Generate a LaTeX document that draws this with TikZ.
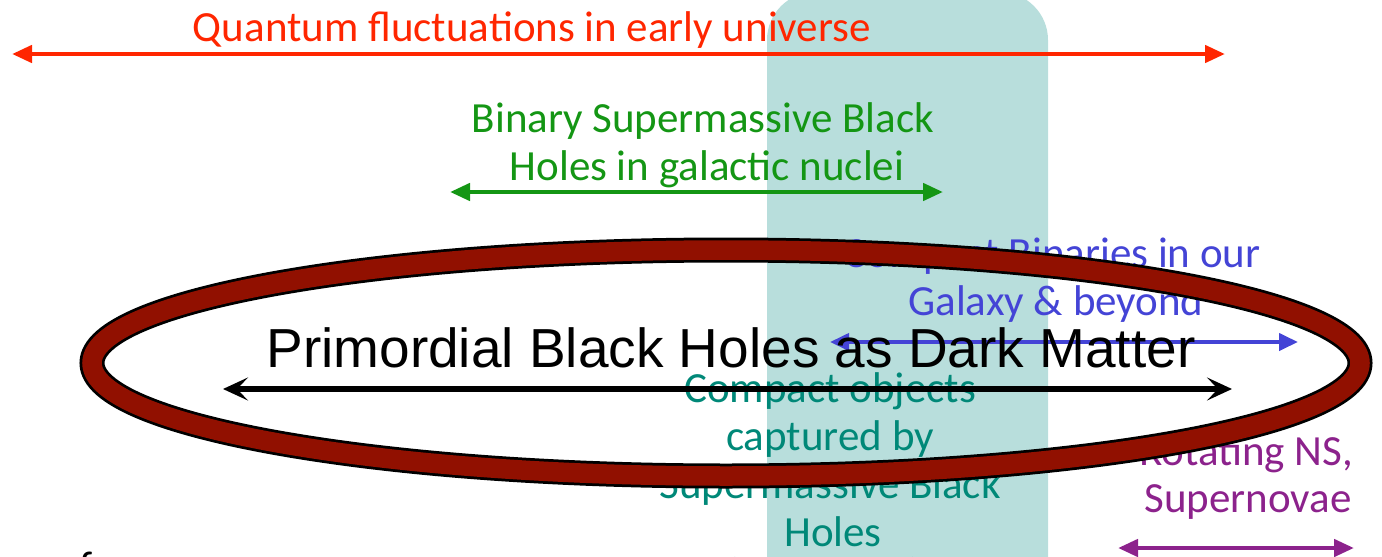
\documentclass[tikz,border=0pt]{standalone}
\usepackage{fontspec}
\setmainfont{Carlito}
\newfontfamily\arialf{Liberation Sans}
\usetikzlibrary{arrows.meta}
\definecolor{qred}{RGB}{255,38,0}
\definecolor{bgreen}{RGB}{20,150,20}
\definecolor{cblue}{RGB}{68,68,214}
\definecolor{cteal}{RGB}{0,136,120}
\definecolor{rpurple}{RGB}{140,34,140}
\definecolor{ringred}{RGB}{145,16,0}
\definecolor{boxteal}{RGB}{184,222,220}
\tikzset{
  lbl/.style={anchor=base, inner sep=0pt, font=\fontsize{43}{49}\selectfont},
  thinarrow/.style={line width=4.5pt, {Triangle[length=20pt,width=17pt]}-{Triangle[length=20pt,width=17pt]}},
  mainarrow/.style={line width=6.5pt, {Stealth[length=25pt,width=23pt,inset=11pt]}-{Stealth[length=25pt,width=23pt,inset=11pt]}},
}
\begin{document}
\begin{tikzpicture}[x=1pt,y=-1pt]
\useasboundingbox (0,0) rectangle (1382,557);
\clip (0,0) rectangle (1382,557);
% teal band
\fill[boxteal, rounded corners=48pt] (767,-8) rectangle (1048,620);
% red
\node[lbl, text=qred] (q) at (532,41) {Quantum fluctuations in early universe};
\coordinate (qL) at (12,54); \coordinate (qR) at (1225,54);
\draw[thinarrow, qred] (qL) -- (qR);
% green
\node[lbl, text=bgreen] (g1) at (703,132) {Binary Supermassive Black};
\node[lbl, text=bgreen] (g2) at (707,180) {Holes in galactic nuclei};
\coordinate (gL) at (450,192); \coordinate (gR) at (943,192);
\draw[thinarrow, bgreen] (gL) -- (gR);
% blue
\node[lbl, text=cblue] (b1) at (1052,267) {Compact Binaries in our};
\node[lbl, text=cblue] (b2) at (1056,315) {Galaxy \& beyond};
\coordinate (bL) at (830,342); \coordinate (bR) at (1298,342);
\draw[cblue, line width=4pt, {Triangle[length=19pt,width=17pt]}-{Triangle[length=19pt,width=17pt]}] (bL) -- (bR);
% teal
\node[lbl, text=cteal] (t1) at (830,402) {Compact objects};
\node[lbl, text=cteal] (t2) at (830,450) {captured by};
\node[lbl, text=cteal] (t3) at (830,498) {Supermassive Black};
\node[lbl, text=cteal] (t4) at (833,546) {Holes};
\coordinate (tL) at (715,566); \coordinate (tR) at (932,566);
\draw[thinarrow, cteal] (tL) -- (tR);
% purple
\node[lbl, text=rpurple] (p1) at (1246,465) {Rotating NS,};
\node[lbl, text=rpurple] (p2) at (1248,512) {Supernovae};
\coordinate (pL) at (1118,548); \coordinate (pR) at (1354,548);
\draw[thinarrow, rpurple] (pL) -- (pR);
% bottom-left partial text
\node[lbl, text=black] (of) at (75,581) {of};
% ring
\coordinate (ec) at (726,363);
\draw[black, line width=25pt] (ec) ellipse [x radius=634, y radius=113];
\draw[ringred, line width=19.5pt] (ec) ellipse [x radius=634, y radius=113];
% main
\node[anchor=base, inner sep=0pt, font=\arialf\fontsize{55}{60}\selectfont] (pbh) at (731,367) {Primordial Black Holes as Dark Matter};
\coordinate (mL) at (223,389); \coordinate (mR) at (1232,389);
\draw[mainarrow, black] (mL) -- (mR);
\end{tikzpicture}
\end{document}
